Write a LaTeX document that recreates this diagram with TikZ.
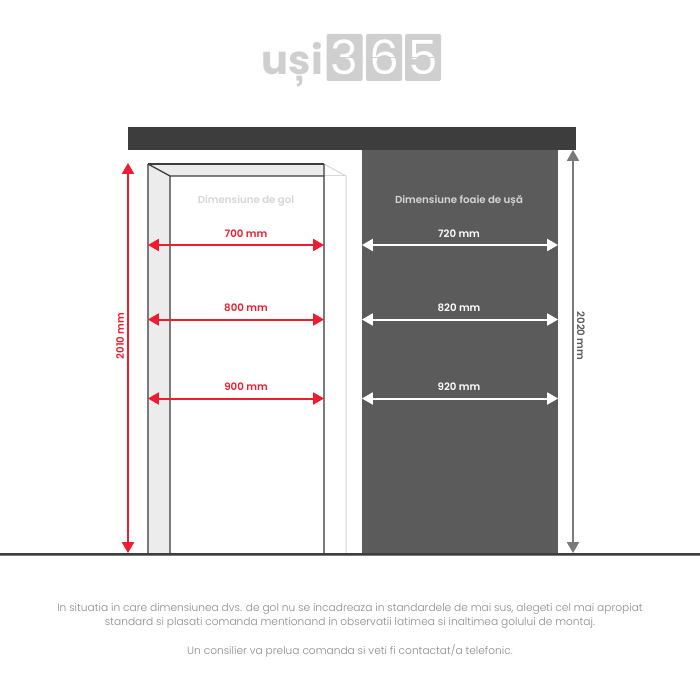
\documentclass[tikz,border=0pt]{standalone}
\usepackage{fontspec}
\setmainfont{Poppins}
\newfontfamily\thinfont{Poppins Light}
\newfontfamily\semifont{Poppins SemiBold}
\usepackage{tikz}
\usetikzlibrary{arrows}
\definecolor{barcol}{HTML}{3D3D3D}
\definecolor{leafcol}{HTML}{5B5B5B}
\definecolor{jambcol}{HTML}{ECECEC}
\definecolor{edgecol}{HTML}{7A7A7A}
\definecolor{ghostcol}{HTML}{D6D6D6}
\definecolor{logocol}{HTML}{CFCFCF}
\definecolor{redcol}{HTML}{ED1C2E}
\definecolor{notecol}{HTML}{8A8A8A}
\tikzstyle{dim}=[font=\semifont\fontsize{10.2}{12}\selectfont,inner sep=0pt]
\tikzstyle{note}=[font=\thinfont\fontsize{10.6}{13}\selectfont,text=notecol,inner sep=0pt]
\tikzstyle{flip}=[rectangle,rounded corners=2pt,fill=logocol,minimum width=36pt,minimum height=47pt,inner sep=0pt,text=white,font=\fontsize{47}{47}\selectfont]
\tikzstyle{arrow}=[<->,>=triangle 60,line width=2pt]
\begin{document}
\begin{tikzpicture}[x=1pt,y=-1pt]
      \useasboundingbox (0,0) rectangle (700,700);
      % logo
      \node[inner sep=0pt,text=logocol,font=\bfseries\fontsize{40}{40}\selectfont,anchor=base east] at (323,75) (brand) {uși};
      \node[flip] at (344.5,57.5) (d3) {3};
      \node[flip] at (384,57.5) (d6) {6};
      \node[flip] at (423,57.5) (d5) {5};
      \draw[logocol,line width=0.8pt] (d3.west) -- (d3.east);
      \draw[logocol,line width=0.8pt] (d6.west) -- (d6.east);
      \draw[logocol,line width=0.8pt] (d5.west) -- (d5.east);
      % door leaf and top bar
      \fill[leafcol] (362,150) rectangle (558,554);
      \fill[barcol] (128,127) rectangle (576,150);
      % frame
      \fill[jambcol] (148,164) -- (324,164) -- (324,176) -- (170,176) -- (170,554) -- (148,554) -- cycle;
      \draw[ghostcol,line width=1pt] (324,164) -- (346,176) -- (346,554);
      \draw[ghostcol,line width=1pt] (324,176) -- (346,176);
      \draw[edgecol,line width=1.5pt] (148,554) -- (148,164);
      \draw[edgecol,line width=1.5pt] (170,176) -- (170,554);
      \draw[edgecol,line width=1.5pt] (324,164) -- (324,554);
      \draw[barcol,line width=1.3pt] (148,164) -- (324,164);
      \draw[barcol,line width=1.3pt] (148,164) -- (170,176) -- (324,176);
      % floor
      \fill[edgecol] (0,553) rectangle (700,556);
      \fill[barcol] (0,552.6) rectangle (700,554.8);
      % end points
      \coordinate (gt) at (128,163);
      \coordinate (gb) at (128,553);
      \coordinate (ht) at (573,150);
      \coordinate (hb) at (573,553);
      \coordinate (a1) at (148,245);
      \coordinate (b1) at (324,245);
      \coordinate (a2) at (148,319.5);
      \coordinate (b2) at (324,319.5);
      \coordinate (a3) at (148,398.5);
      \coordinate (b3) at (324,398.5);
      \coordinate (c1) at (362,245);
      \coordinate (e1) at (558,245);
      \coordinate (c2) at (362,319.5);
      \coordinate (e2) at (558,319.5);
      \coordinate (c3) at (362,398.5);
      \coordinate (e3) at (558,398.5);
      % arrows
      \draw[arrow,redcol] (gt) -- (gb);
      \draw[arrow,edgecol] (ht) -- (hb);
      \draw[arrow,redcol] (a1) -- (b1);
      \draw[arrow,redcol] (a2) -- (b2);
      \draw[arrow,redcol] (a3) -- (b3);
      \draw[arrow,white] (c1) -- (e1);
      \draw[arrow,white] (c2) -- (e2);
      \draw[arrow,white] (c3) -- (e3);
      % labels
      \node[dim,text=ghostcol] at (246,200.5) (gol) {Dimensiune de gol};
      \node[dim,text=ghostcol] at (459,200.5) (foaie) {Dimensiune foaie de ușă};
      \node[dim,text=redcol] at (246,234) (w700) {700 mm};
      \node[dim,text=redcol] at (246,308) (w800) {800 mm};
      \node[dim,text=redcol] at (246,387) (w900) {900 mm};
      \node[dim,text=white] at (459,234) (w720) {720 mm};
      \node[dim,text=white] at (459,308) (w820) {820 mm};
      \node[dim,text=white] at (459,387) (w920) {920 mm};
      \node[dim,text=redcol,rotate=90] at (120,336) (h2010) {2010 mm};
      \node[dim,text=leafcol,rotate=-90] at (581,336) (h2020) {2020 mm};
      % note
      \node[note] at (350,608.5) (n1) {In situatia in care dimensiunea dvs. de gol nu se incadreaza in standardele de mai sus, alegeti cel mai apropiat};
      \node[note] at (350,623) (n2) {standard si plasati comanda mentionand in observatii latimea si inaltimea golului de montaj.};
      \node[note] at (350,651) (n3) {Un consilier va prelua comanda si veti fi contactat/a telefonic.};
    \end{tikzpicture}
\end{document}
